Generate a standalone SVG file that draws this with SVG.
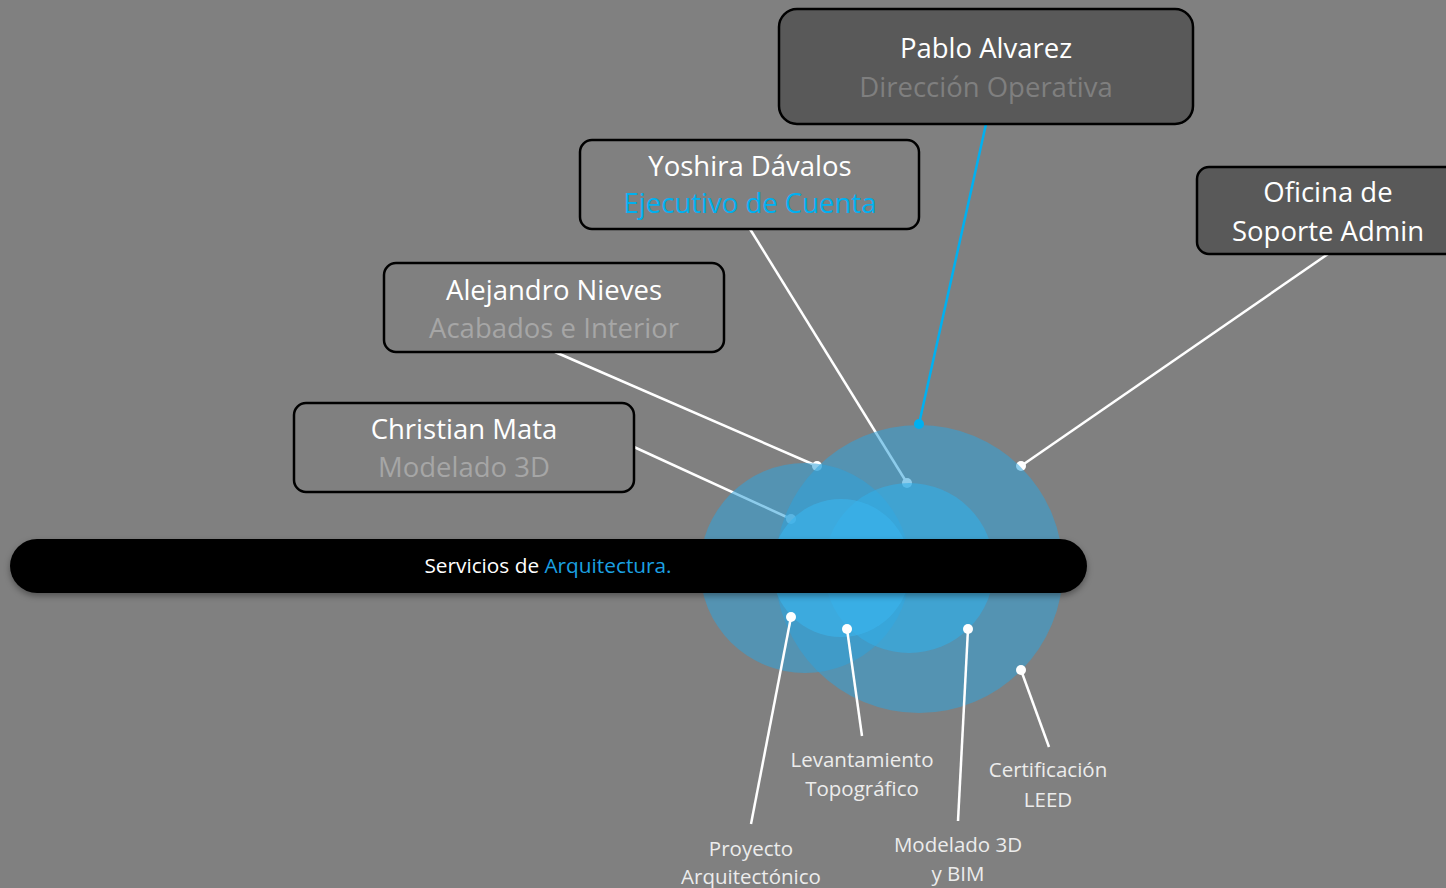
<svg xmlns="http://www.w3.org/2000/svg" width="1446" height="888" viewBox="0 0 1446 888">
<style>
.box{stroke:#000;stroke-width:2.5}
.dark{fill:#595959}
.clear{fill:none}
.t{font-family:"Open Sans","Noto Sans","Liberation Sans",sans-serif;text-anchor:middle}
.name{font-size:27.5px;fill:#fff}
.role{font-size:27.5px}
.lbl{font-size:20.5px;fill:#ececec}
.ln{stroke:#fff;stroke-width:2.5;fill:none}
.dot{fill:#fff}
.circ{fill:#2fa3db;opacity:0.55}
.circ2{fill:#33aee6;opacity:0.6}
.circ3{fill:#3ab4ec;opacity:0.6}
</style>
<defs>
<filter id="sh" x="-10%" y="-30%" width="120%" height="160%">
<feDropShadow dx="0" dy="3" stdDeviation="3" flood-color="#000" flood-opacity="0.35"/>
</filter>
</defs>
<rect width="1446" height="888" fill="#808080"/>

<g id="connectors-back">
<line class="ln" x1="555" y1="352" x2="817" y2="466"/>
<circle class="dot" cx="817" cy="466" r="5"/>
<line class="ln" x1="634" y1="447" x2="791" y2="519"/>
<circle class="dot" cx="791" cy="519" r="5"/>
<line class="ln" x1="750" y1="229" x2="907" y2="483"/>
<circle class="dot" cx="907" cy="483" r="5"/>
<line class="ln" x1="1328" y1="254" x2="1021" y2="466"/>
<circle class="dot" cx="1021" cy="466" r="5"/>
</g>

<g id="venn">
<circle class="circ" cx="919" cy="569" r="144"/>
<circle class="circ" cx="805" cy="568" r="105"/>
<circle class="circ2" cx="909" cy="568" r="85"/>
<circle class="circ3" cx="841" cy="568" r="69"/>
</g>

<g id="connectors">
<line x1="986" y1="124" x2="919" y2="424" stroke="#00b0f0" stroke-width="2.5"/>
<circle cx="919" cy="424" r="5" fill="#00b0f0"/>
<line class="ln" x1="791" y1="617" x2="751" y2="824"/>
<circle class="dot" cx="791" cy="617" r="5"/>
<line class="ln" x1="847" y1="629" x2="862" y2="736"/>
<circle class="dot" cx="847" cy="629" r="5"/>
<line class="ln" x1="968" y1="629" x2="958" y2="821"/>
<circle class="dot" cx="968" cy="629" r="5"/>
<line class="ln" x1="1021" y1="670" x2="1049" y2="747"/>
<circle class="dot" cx="1021" cy="670" r="5"/>
</g>

<g id="bar">
<rect x="10" y="539" width="1077" height="54" rx="27" fill="#000" filter="url(#sh)"/>
<text class="t" x="548" y="573" font-size="20.8px" fill="#fff">Servicios de <tspan fill="#1ba1e2">Arquitectura.</tspan></text>
</g>

<g id="pablo">
<rect class="box dark" x="779" y="9" width="414" height="115" rx="18"/>
<text class="t name" x="986" y="58">Pablo Alvarez</text>
<text class="t role" x="986" y="97" fill="#7f7f7f">Dirección Operativa</text>
</g>

<g id="yoshira">
<rect class="box clear" x="580" y="140" width="339" height="89" rx="12"/>
<text class="t name" x="750" y="176">Yoshira Dávalos</text>
<text class="t role" x="750" y="213" fill="#00b0f0">Ejecutivo de Cuenta</text>
</g>

<g id="oficina">
<rect class="box dark" x="1197" y="167" width="260" height="87" rx="12"/>
<text class="t name" x="1328" y="202">Oficina de</text>
<text class="t name" x="1328" y="241">Soporte Admin</text>
</g>

<g id="alejandro">
<rect class="box clear" x="384" y="263" width="340" height="89" rx="12"/>
<text class="t name" x="554" y="300">Alejandro Nieves</text>
<text class="t role" x="554" y="338" fill="#a6a6a6">Acabados e Interior</text>
</g>

<g id="christian">
<rect class="box clear" x="294" y="403" width="340" height="89" rx="12"/>
<text class="t name" x="464" y="439">Christian Mata</text>
<text class="t role" x="464" y="477" fill="#a6a6a6">Modelado 3D</text>
</g>

<g id="labels">
<text class="t lbl" x="862" y="767">Levantamiento</text>
<text class="t lbl" x="862" y="796">Topográfico</text>
<text class="t lbl" x="1048" y="777">Certificación</text>
<text class="t lbl" x="1048" y="807">LEED</text>
<text class="t lbl" x="751" y="856">Proyecto</text>
<text class="t lbl" x="751" y="884">Arquitectónico</text>
<text class="t lbl" x="958" y="852">Modelado 3D</text>
<text class="t lbl" x="958" y="881">y BIM</text>
</g>
</svg>
